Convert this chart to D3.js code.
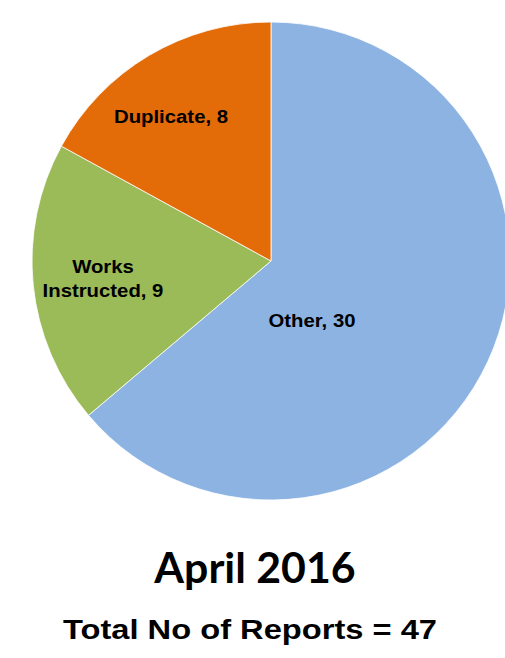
<!DOCTYPE html>
<html>
<head>
<meta charset="utf-8">
<script src="https://cdn.jsdelivr.net/npm/d3@7"></script>
<style>
  body { margin: 0; background: #fff; }
</style>
</head>
<body>
<div id="chart"></div>
<script>
// data
let categories = ['Other', 'Works Instructed', 'Duplicate']
let values = [30, 9, 8]
let labelLines = [['Other, 30'], ['Works', 'Instructed, 9'], ['Duplicate, 8']]
let colors = ['#8db3e2', '#9bbb59', '#e36c09']
let title = 'April 2016'
let subtitle = 'Total No of Reports = 47'

// layout
let w = 505, h = 658
let cx = 271, cy = 261, r = 239
// label anchor (dx, dy from centre) per slice
let labelPos = [[41, 60], [-168, 18], [-100, -144]]
// source text looks horizontally stretched
let stretch = 1.13

let svg = d3.select('#chart').append('svg')
  .attr('width', w)
  .attr('height', h)

let pie = d3.pie().sort(null).value(d => d)
let arc = d3.arc().innerRadius(0).outerRadius(r)

let g = svg.append('g').attr('transform', `translate(${cx}, ${cy})`)

g.selectAll('path')
  .data(pie(values))
  .enter()
  .append('path')
  .attr('d', arc)
  .attr('fill', (d, i) => colors[i])
  .attr('stroke', '#fff')
  .attr('stroke-width', 0.8)

let labels = g.selectAll('text')
  .data(labelLines)
  .enter()
  .append('text')
  .attr('text-anchor', 'middle')
  .attr('font-family', 'Liberation Sans, Arial, sans-serif')
  .attr('font-weight', 'bold')
  .attr('font-size', '18px')
  .attr('fill', '#000')
  .attr('transform', (d, i) => `translate(${labelPos[i][0]}, ${labelPos[i][1]}) scale(${stretch}, 1)`)

labels.selectAll('tspan')
  .data(d => d.map((t, j) => ({ t, j, n: d.length })))
  .enter()
  .append('tspan')
  .attr('x', 0)
  .attr('y', d => (d.j - (d.n - 1) / 2) * 25 + 6)
  .text(d => d.t)

svg.append('text')
  .attr('text-anchor', 'middle')
  .attr('font-family', 'Lato, Open Sans, sans-serif')
  .attr('font-weight', 'bold')
  .attr('font-size', '42px')
  .attr('transform', 'translate(255, 583) scale(1.02, 1)')
  .text(title)

svg.append('text')
  .attr('text-anchor', 'middle')
  .attr('font-family', 'Liberation Sans, Arial, sans-serif')
  .attr('font-weight', 'bold')
  .attr('font-size', '27px')
  .attr('transform', 'translate(250, 639) scale(1.21, 1)')
  .text(subtitle)
</script>
</body>
</html>
